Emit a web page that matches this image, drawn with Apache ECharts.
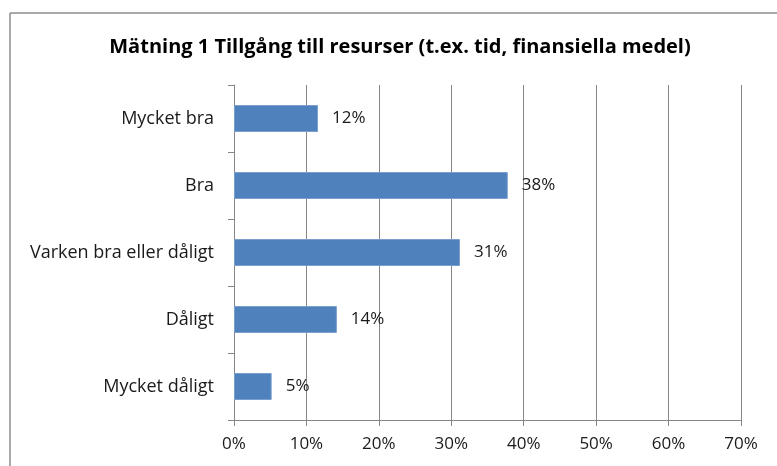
<!DOCTYPE html>
<html>
<head>
<meta charset="utf-8">
<script src="https://cdn.jsdelivr.net/npm/echarts@6/dist/echarts.min.js"></script>
<style>
  html, body { margin: 0; padding: 0; background: #ffffff; }
  #chart { width: 777px; height: 466px; }
</style>
</head>
<body>
<div id="chart"></div>
<script>
// (percent)
const categories = ['Mycket bra', 'Bra', 'Varken bra eller dåligt', 'Dåligt', 'Mycket dåligt']
const values = [11.6, 37.8, 31.2, 14.2, 5.2]
const xTicks = [0, 10, 20, 30, 40, 50, 60, 70]

const chart = echarts.init(document.getElementById('chart'))
const option = {
  backgroundColor: '#ffffff',
  animation: false,
  title: {
    text: 'Mätning 1 Tillgång till resurser (t.ex. tid, finansiella medel)',
    left: 395,
    top: 32,
    textAlign: 'center',
    textStyle: {
      fontFamily: 'Open Sans, sans-serif',
      fontSize: 20,
      fontWeight: 'bold',
      color: '#000000'
    }
  },
  graphic: [
    { type: 'line', shape: { x1: 10, y1: 13, x2: 777, y2: 13 }, style: { stroke: '#8c8c8c', lineWidth: 1.5 } },
    { type: 'line', shape: { x1: 10, y1: 13, x2: 10, y2: 466 }, style: { stroke: '#8c8c8c', lineWidth: 1.5 } }
  ],
  grid: { left: 234, right: 36, top: 85, bottom: 46 },
  xAxis: {
    type: 'value',
    min: xTicks[0],
    max: xTicks[xTicks.length - 1],
    interval: 10,
    axisLine: { show: true, lineStyle: { color: '#868686' } },
    axisTick: { show: true, length: 6, lineStyle: { color: '#868686' } },
    splitLine: { show: true, lineStyle: { color: '#868686' } },
    axisLabel: {
      formatter: '{value}%',
      color: '#1a1a1a',
      fontFamily: 'Open Sans, sans-serif',
      fontSize: 17,
      margin: 16
    }
  },
  yAxis: {
    type: 'category',
    inverse: true,
    data: categories,
    axisLine: { show: true, lineStyle: { color: '#868686' } },
    axisTick: { show: true, length: 6, lineStyle: { color: '#868686' } },
    axisLabel: {
      color: '#1a1a1a',
      fontFamily: 'Open Sans, sans-serif',
      fontSize: 18,
      margin: 20
    }
  },
  series: [{
    type: 'bar',
    data: values,
    barWidth: 27,
    itemStyle: { color: '#4f81bd', borderColor: '#7a9fcf', borderWidth: 1 },
    label: {
      show: true,
      position: 'right',
      distance: 14,
      color: '#1a1a1a',
      fontFamily: 'Open Sans, sans-serif',
      fontSize: 17,
      formatter: p => Math.round(p.value) + '%'
    }
  }]
}
chart.setOption(option)
</script>
</body>
</html>
